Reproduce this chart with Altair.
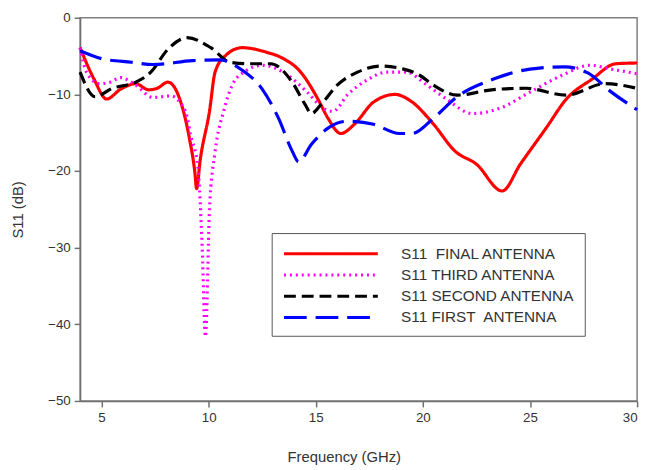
import altair as alt
import pandas as pd

names = ["S11\u00a0 FINAL ANTENNA", "S11 THIRD ANTENNA", "S11 SECOND ANTENNA", "S11 FIRST\u00a0 ANTENNA"]
colors = ["#ff0000", "#ff00ff", "#000000", "#0000ff"]
dashes = [[1, 0], [2, 4], [12, 6], [23, 9]]

final_f = [4.0, 4.65, 5.24, 5.9, 6.6, 7.2, 7.6, 8.1, 8.65, 9.1, 9.35, 9.44, 9.6, 10.04, 10.3, 10.8, 11.56,
           12.7, 13.4, 14.3, 15.1, 15.57, 16.17, 16.8, 17.7, 18.7, 19.5, 20.5, 21.5, 22.5, 23.7, 24.55,
           25.75, 26.7, 27.9, 29.0, 30.0]
final_db = [-3.9, -8.0, -10.6, -9.3, -8.6, -9.4, -9.2, -8.4, -10.6, -15.7, -20.0, -22.3, -18.7, -12.2, -7.1,
            -4.9, -3.9, -4.5, -5.2, -7.1, -10.6, -13.1, -15.1, -13.9, -11.0, -10.0, -11.0, -13.9, -17.4,
            -19.1, -22.6, -19.1, -14.4, -10.6, -8.0, -6.0, -5.9]

third_f = [4.0, 4.3, 4.9, 5.4, 5.9, 6.6, 7.4, 8.25, 8.65, 9.0, 9.15, 9.5, 9.7, 9.85, 10.04, 10.3, 10.7, 11.1,
           11.7, 12.5, 13.7, 14.6, 15.4, 15.8, 16.5, 17.4, 18.3, 19.25, 20.1, 21.1, 22.3, 23.6, 25.0,
           26.5, 27.8, 28.8, 30.0]
third_db = [-3.9, -7.1, -8.6, -8.4, -7.8, -8.8, -10.4, -10.2, -11.0, -13.0, -15.2, -19.5, -30.0, -41.6,
            -25.0, -17.5, -12.2, -8.8, -7.0, -6.2, -7.5, -9.7, -11.9, -12.2, -10.0, -8.1, -7.1, -7.1, -8.6,
            -10.6, -12.5, -11.8, -9.7, -7.5, -6.2, -6.7, -7.3]

second_f = [4.0, 4.7, 5.5, 6.6, 7.3, 8.1, 9.0, 10.1, 11.0, 11.9, 12.9, 13.9, 14.5, 14.8, 15.25, 16.0, 16.95,
            18.0, 19.1, 19.85, 20.5, 21.6, 23.2, 24.8, 26.7, 28.5, 30.0]
second_db = [-7.1, -10.3, -9.2, -8.4, -7.1, -4.1, -2.6, -3.9, -5.8, -6.0, -6.0, -8.4, -11.3, -12.5, -11.3,
             -8.8, -7.1, -6.3, -6.7, -7.5, -8.8, -10.1, -9.4, -9.2, -10.1, -8.6, -9.2]

first_f = [4.0, 5.1, 6.4, 7.4, 9.25, 10.5, 11.6, 12.5, 13.26, 13.9, 14.2, 14.8, 15.57, 16.5, 17.7, 18.9,
           19.5, 20.5, 21.6, 23.3, 25.0, 26.6, 27.7, 28.8, 30.0]
first_db = [-4.3, -5.4, -5.8, -6.1, -5.6, -5.5, -6.9, -9.3, -13.1, -17.4, -18.8, -16.5, -14.4, -13.5, -13.9,
            -15.1, -15.1, -13.1, -10.3, -8.0, -6.7, -6.4, -7.2, -9.7, -12.0]

series = [(final_f, final_db), (third_f, third_db), (second_f, second_db), (first_f, first_db)]
rows = []
for name, (fs, ds) in zip(names, series):
    for f, d in zip(fs, ds):
        rows.append({"series": name, "freq": f, "s11": d})
df = pd.DataFrame(rows)

FONT = "Liberation Sans"

chart = alt.Chart(df).mark_line(interpolate="monotone", strokeWidth=3.2).encode(
    x=alt.X("freq:Q", title="Frequency (GHz)",
            scale=alt.Scale(domain=[4, 30], nice=False, zero=False),
            axis=alt.Axis(values=[5, 10, 15, 20, 25, 30], grid=False, titleX=267)),
    y=alt.Y("s11:Q", title="S11 (dB)",
            scale=alt.Scale(domain=[-50, 0], nice=False),
            axis=alt.Axis(values=[0, -10, -20, -30, -40, -50], grid=False)),
    color=alt.Color("series:N", scale=alt.Scale(domain=names, range=colors),
                    legend=alt.Legend(title=None, orient="none", legendX=194, legendY=218,
                                      symbolType="M-0.9,0H9.1", symbolSize=361,
                                      symbolStrokeWidth=3, labelOffset=99,
                                      fillColor="white", strokeColor="#555555", padding=10,
                                      rowPadding=1.5, labelFontSize=15.5, labelFont=FONT,
                                      labelColor="#333333", labelLimit=400)),
    strokeDash=alt.StrokeDash("series:N", scale=alt.Scale(domain=names, range=dashes), legend=None),
    order=alt.Order("freq:Q"),
).properties(
    width=564, height=388,
    autosize=alt.AutoSizeParams(type="none"),
    padding={"left": 73, "top": 7, "right": 9, "bottom": 67},
).configure_view(
    stroke="#808080", strokeWidth=1.5
).configure_axis(
    domainColor="#707070", domainWidth=1.5, tickColor="#707070", tickWidth=1.5, tickSize=6,
    labelFont=FONT, labelFontSize=13.5, labelColor="#333333", labelPadding=4,
    titleFont=FONT, titleFontSize=15, titleFontWeight="normal", titleColor="#333333",
).configure_axisX(titlePadding=26).configure_axisY(titlePadding=22)

chart.save("out.html", embed_options={"renderer": "svg", "actions": False})
